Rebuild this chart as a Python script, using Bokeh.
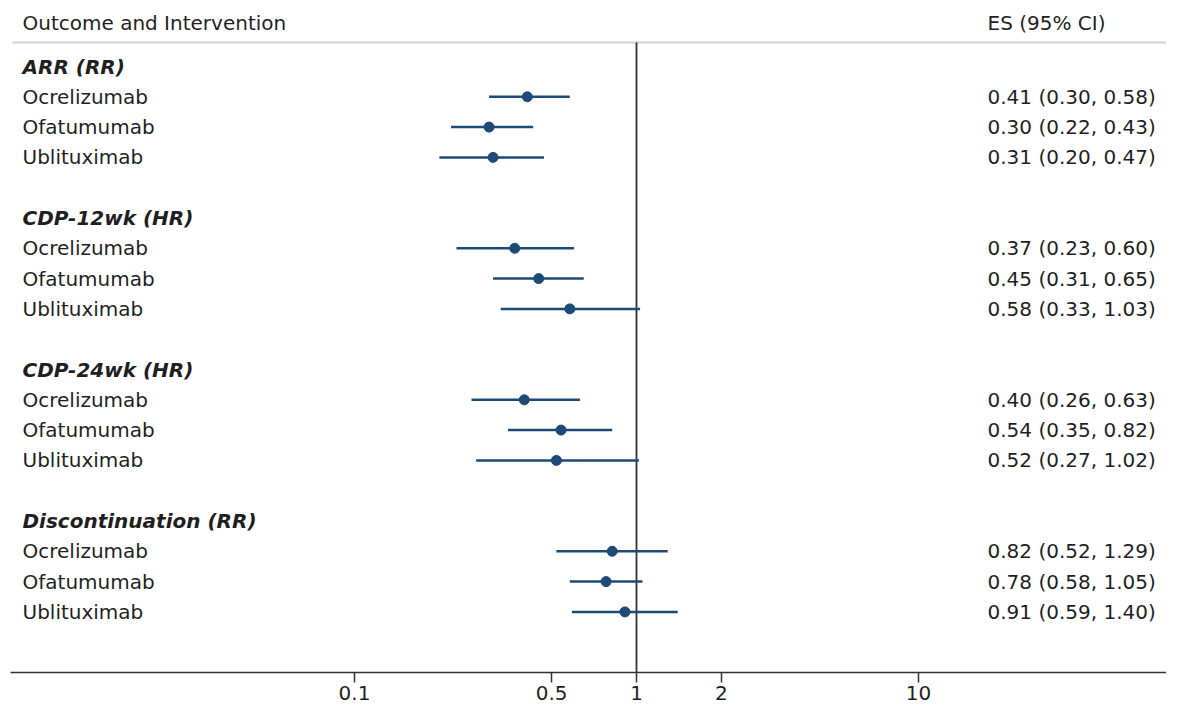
from bokeh.plotting import figure
from bokeh.models import Range1d, FixedTicker, ColumnDataSource
from bokeh.core.properties import value
from bokeh.embed import file_html
from bokeh.resources import INLINE

# ---- data ----
groups = ["ARR (RR)", "CDP-12wk (HR)", "CDP-24wk (HR)", "Discontinuation (RR)"]
drugs = ["Ocrelizumab", "Ofatumumab", "Ublituximab"]
es = [0.41, 0.30, 0.31, 0.37, 0.45, 0.58, 0.40, 0.54, 0.52, 0.82, 0.78, 0.91]
lo = [0.30, 0.22, 0.20, 0.23, 0.31, 0.33, 0.26, 0.35, 0.27, 0.52, 0.58, 0.59]
hi = [0.58, 0.43, 0.47, 0.60, 0.65, 1.03, 0.63, 0.82, 1.02, 1.29, 1.05, 1.40]
tick_vals = [0.1, 0.5, 1, 2, 10]
tick_labels = ["0.1", "0.5", "1", "2", "10"]

FONT = "DejaVu Sans"
FS = "20px"
TXT = "#1f1f1f"
BLUE = "#1e4a78"

W, H = 1166, 710
AXIS_Y = 672          # pixel row of the x axis
ROW0 = 66             # pixel row of first group header
STEP = (AXIS_Y - ROW0) / 20.0
px_per_dec = 282.0
x_one = 636.0  # pixel of x=1


def xat(px):
    return 10 ** ((px - x_one) / px_per_dec)


# rows
item_y, item_lab, item_txt = [], [], []
grp_y = []
for gi, g in enumerate(groups):
    grp_y.append(5 * gi)
    for di, d in enumerate(drugs):
        i = gi * 3 + di
        item_y.append(5 * gi + 1 + di)
        item_lab.append(d)
        item_txt.append("%.2f (%.2f, %.2f)" % (es[i], lo[i], hi[i]))

p = figure(width=W, height=H, x_axis_type="log", output_backend="svg",
           toolbar_location=None, y_axis_location=None,
           x_range=Range1d(xat(10), xat(W)), y_range=Range1d(20, -ROW0 / STEP),
           min_border_left=10, min_border_right=0, min_border_top=0,
           min_border_bottom=H - AXIS_Y)
p.outline_line_color = None
p.xgrid.visible = False
p.ygrid.visible = False
p.background_fill_color = "white"
p.border_fill_color = "white"

ax = p.xaxis[0]
ax.ticker = FixedTicker(ticks=tick_vals)
ax.major_label_overrides = {v: l for v, l in zip(tick_vals, tick_labels)}
ax.minor_tick_line_color = None
ax.major_tick_in = 0
ax.major_tick_out = 10
ax.axis_line_color = "#333333"
ax.axis_line_width = 1.5
ax.major_tick_line_color = "#333333"
ax.major_tick_line_width = 1.5
ax.major_label_text_font = FONT
ax.major_label_text_font_size = FS
ax.major_label_text_color = TXT
ax.major_label_standoff = 3

sep_y = -24 / STEP
head_y = -44 / STEP

# separator under header
p.segment(x0=[xat(12)], x1=[xat(W)], y0=[sep_y], y1=[sep_y],
          line_color="#d3d3d3", line_width=2)
# null line at 1
p.segment(x0=[1], x1=[1], y0=[sep_y], y1=[20], line_color="#333333", line_width=1.8)

src = ColumnDataSource(dict(y=item_y, es=es, lo=lo, hi=hi, lab=item_lab, txt=item_txt,
                            xl=[xat(22)] * len(es), xr=[xat(987)] * len(es)))
p.segment(x0="lo", x1="hi", y0="y", y1="y", source=src, line_color=BLUE, line_width=2.5)
p.scatter(x="es", y="y", source=src, size=10, fill_color=BLUE, line_color=BLUE)

p.text(x="xl", y="y", text="lab", source=src, text_font=value(FONT), text_font_size=FS,
       text_color=TXT, text_baseline="middle", text_align="left")
p.text(x="xr", y="y", text="txt", source=src, text_font=value(FONT), text_font_size=FS,
       text_color=TXT, text_baseline="middle", text_align="left")

gsrc = ColumnDataSource(dict(y=grp_y, lab=groups, x=[xat(22)] * len(groups)))
p.text(x="x", y="y", text="lab", source=gsrc, text_font=value(FONT), text_font_size=FS,
       text_font_style="bold italic", text_color=TXT, text_baseline="middle", text_align="left")

hsrc = ColumnDataSource(dict(x=[xat(22), xat(987)], y=[head_y, head_y],
                             lab=["Outcome and Intervention", "ES (95% CI)"]))
p.text(x="x", y="y", text="lab", source=hsrc, text_font=value(FONT), text_font_size=FS,
       text_color=TXT, text_baseline="middle", text_align="left")

open("out.html", "w").write(file_html(p, INLINE))
